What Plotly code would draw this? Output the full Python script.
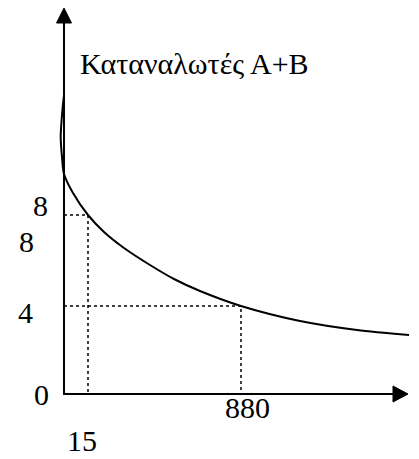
import plotly.graph_objects as go

# Demand curve of consumers A+B, in diagram units (origin at the axes corner)
quantity = [0, -1.5, -3.3, -2, 0, 9, 24, 40, 60, 86, 110, 136, 177, 236, 293, 345]
price = [299, 285, 257, 237, 220, 201, 179, 162, 146, 129, 115, 103, 88, 73, 64, 59]

# Reference points
guide_q = [24, 177]
guide_p = [179, 88]

title_text = "Καταναλωτές Α+Β"
SERIF = "Liberation Serif"
FS = 30

fig = go.Figure()

# dotted guides from each reference point to both axes
for q, p in zip(guide_q, guide_p):
    fig.add_trace(go.Scatter(x=[0, q, q], y=[p, p, 0], mode="lines",
                             line=dict(color="black", width=1.5, dash="dot"),
                             hoverinfo="skip", showlegend=False))

fig.add_trace(go.Scatter(x=quantity, y=price, mode="lines",
                         line=dict(color="black", width=2, shape="spline", smoothing=0.8),
                         showlegend=False))

# axes with arrowheads
shapes = [
    dict(type="line", x0=0, y0=0, x1=0, y1=374, line=dict(color="black", width=2)),
    dict(type="line", x0=-1, y0=0, x1=332, y1=0, line=dict(color="black", width=2)),
    dict(type="path", path="M -7.5,371 L 0,386 L 7.5,371 Z",
         fillcolor="black", line=dict(color="black", width=1)),
    dict(type="path", path="M 329,-8 L 344,0 L 329,8 Z",
         fillcolor="black", line=dict(color="black", width=1)),
]

def label(text, x, y):
    return dict(text=text, x=x, y=y, xref="x", yref="y", showarrow=False,
                xanchor="center", yanchor="middle",
                font=dict(family=SERIF, size=FS, color="black"))

annotations = [
    label("8", -24, 189),
    label("8", -38, 153),
    label("4", -39, 82),
    label("0", -23, 0),
    label("15", 18, -46),
    label("880", 183, -13),
    dict(text=title_text, x=14, y=331, xref="x", yref="y", showarrow=False,
         xanchor="left", yanchor="middle",
         font=dict(family=SERIF, size=FS, color="black")),
]

fig.update_layout(
    width=419, height=459,
    margin=dict(l=0, r=0, t=0, b=0),
    paper_bgcolor="white", plot_bgcolor="white",
    xaxis=dict(range=[-64, 355], visible=False, fixedrange=True),
    yaxis=dict(range=[-65, 394], visible=False, fixedrange=True),
    shapes=shapes, annotations=annotations,
    showlegend=False,
)

fig.write_html("out.html")
